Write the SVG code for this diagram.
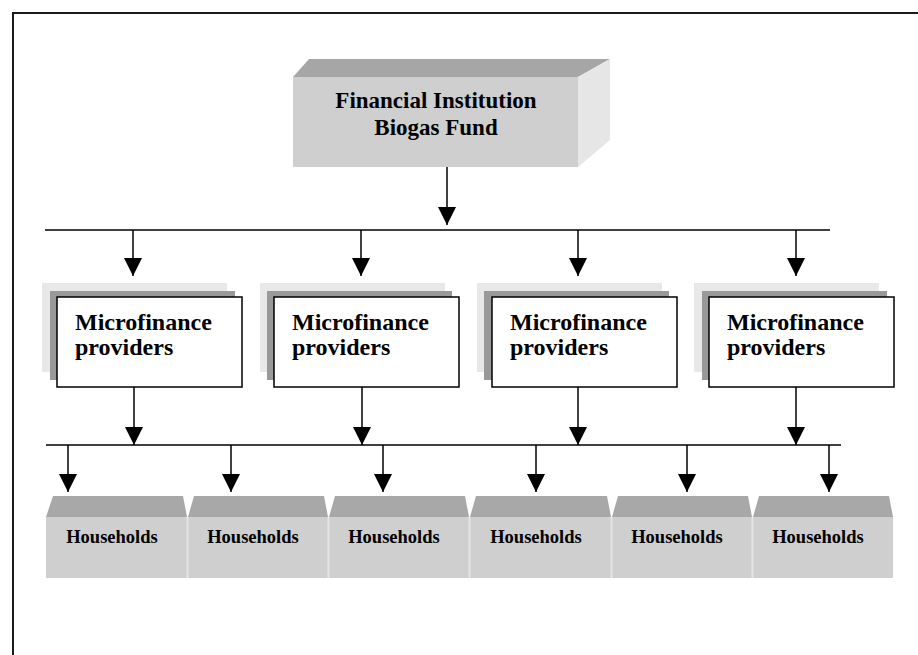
<svg xmlns="http://www.w3.org/2000/svg" width="918" height="655" viewBox="0 0 918 655">
<defs>
<style>
.frame{fill:none;stroke:#1a1a1a;stroke-width:2}
.conn line{stroke:#000;stroke-width:1.5;fill:none}
.arr{marker-end:url(#ah)}
.t0{font-family:"Liberation Serif","Times New Roman",serif;font-weight:bold;font-size:23px;fill:#000}
.t1{font-family:"Liberation Serif","Times New Roman",serif;font-weight:bold;font-size:24px;fill:#000}
.t2{font-family:"Liberation Serif","Times New Roman",serif;font-weight:bold;font-size:18.5px;fill:#000}
.back{fill:#e8e8e8}
.mid{fill:#999999}
.front{fill:#ffffff;stroke:#000;stroke-width:1.5}
.htop{fill:#a8a8a8}
.hfront{fill:#cfcfcf}
.hsep{stroke:#e4e4e4;stroke-width:2}
</style>
<marker id="ah" markerUnits="userSpaceOnUse" markerWidth="18" markerHeight="18" refX="18" refY="9" orient="auto">
<path d="M0,0 L18,9 L0,18 z" fill="#000"/>
</marker>
</defs>
<rect width="918" height="655" fill="#fff"/>
<path class="frame" d="M13,655 V13 H918"/>

<g id="fund">
<polygon points="293,77 309,59 610,59 578,77" fill="#a6a6a6"/>
<polygon points="578,77 610,59 610,140 578,167" fill="#e6e6e6"/>
<rect x="293" y="77" width="285" height="90" fill="#cfcfcf"/>
<text class="t0" x="436" y="108" text-anchor="middle">Financial Institution</text>
<text class="t0" x="436" y="135" text-anchor="middle">Biogas Fund</text>
</g>

<g id="mfp1">
<rect class="back" x="42" y="283" width="185" height="89"/>
<rect class="mid" x="50" y="291" width="185" height="89"/>
<rect class="front" x="57" y="297" width="185" height="90"/>
<text class="t1" x="75" y="330">Microfinance</text>
<text class="t1" x="75" y="355">providers</text>
</g>
<g id="mfp2">
<rect class="back" x="260" y="283" width="185" height="89"/>
<rect class="mid" x="267" y="291" width="185" height="89"/>
<rect class="front" x="274" y="297" width="185" height="90"/>
<text class="t1" x="292" y="330">Microfinance</text>
<text class="t1" x="292" y="355">providers</text>
</g>
<g id="mfp3">
<rect class="back" x="477" y="283" width="185" height="89"/>
<rect class="mid" x="484" y="291" width="185" height="89"/>
<rect class="front" x="492" y="297" width="185" height="90"/>
<text class="t1" x="510" y="330">Microfinance</text>
<text class="t1" x="510" y="355">providers</text>
</g>
<g id="mfp4">
<rect class="back" x="694" y="283" width="185" height="89"/>
<rect class="mid" x="702" y="291" width="185" height="89"/>
<rect class="front" x="709" y="297" width="185" height="90"/>
<text class="t1" x="727" y="330">Microfinance</text>
<text class="t1" x="727" y="355">providers</text>
</g>

<g id="hh1">
<polygon class="htop" points="46,517 53,496 183,496 187,517"/>
<rect class="hfront" x="46" y="517" width="141" height="61"/>
<text class="t2" x="112" y="543" text-anchor="middle">Households</text>
</g>
<g id="hh2">
<polygon class="htop" points="188,517 194,496 324,496 328,517"/>
<rect class="hfront" x="188" y="517" width="140" height="61"/>
<text class="t2" x="253" y="543" text-anchor="middle">Households</text>
</g>
<g id="hh3">
<polygon class="htop" points="329,517 335,496 465,496 469,517"/>
<rect class="hfront" x="329" y="517" width="140" height="61"/>
<text class="t2" x="394" y="543" text-anchor="middle">Households</text>
</g>
<g id="hh4">
<polygon class="htop" points="470,517 476,496 607,496 611,517"/>
<rect class="hfront" x="470" y="517" width="141" height="61"/>
<text class="t2" x="536" y="543" text-anchor="middle">Households</text>
</g>
<g id="hh5">
<polygon class="htop" points="612,517 618,496 748,496 752,517"/>
<rect class="hfront" x="612" y="517" width="140" height="61"/>
<text class="t2" x="677" y="543" text-anchor="middle">Households</text>
</g>
<g id="hh6">
<polygon class="htop" points="753,517 759,496 889,496 893,517"/>
<rect class="hfront" x="753" y="517" width="140" height="61"/>
<text class="t2" x="818" y="543" text-anchor="middle">Households</text>
</g>
<g id="seps">
<line class="hsep" x1="187.5" y1="517" x2="187.5" y2="578"/>
<line class="hsep" x1="328.5" y1="517" x2="328.5" y2="578"/>
<line class="hsep" x1="469.5" y1="517" x2="469.5" y2="578"/>
<line class="hsep" x1="611.5" y1="517" x2="611.5" y2="578"/>
<line class="hsep" x1="752.5" y1="517" x2="752.5" y2="578"/>
</g>

<g id="connectors" class="conn">
<line class="arr" x1="447" y1="167" x2="447" y2="225"/>
<line x1="45" y1="230" x2="830" y2="230"/>
<line class="arr" x1="133" y1="230" x2="133" y2="276"/>
<line class="arr" x1="361" y1="230" x2="361" y2="276"/>
<line class="arr" x1="578" y1="230" x2="578" y2="276"/>
<line class="arr" x1="796" y1="230" x2="796" y2="276"/>
<line class="arr" x1="134" y1="387" x2="134" y2="445"/>
<line class="arr" x1="362" y1="387" x2="362" y2="445"/>
<line class="arr" x1="578" y1="387" x2="578" y2="445"/>
<line class="arr" x1="796" y1="387" x2="796" y2="445"/>
<line x1="46" y1="445" x2="841" y2="445"/>
<line class="arr" x1="68" y1="445" x2="68" y2="492"/>
<line class="arr" x1="231" y1="445" x2="231" y2="492"/>
<line class="arr" x1="383" y1="445" x2="383" y2="492"/>
<line class="arr" x1="536" y1="445" x2="536" y2="492"/>
<line class="arr" x1="687" y1="445" x2="687" y2="492"/>
<line class="arr" x1="829" y1="445" x2="829" y2="492"/>
</g>
</svg>
